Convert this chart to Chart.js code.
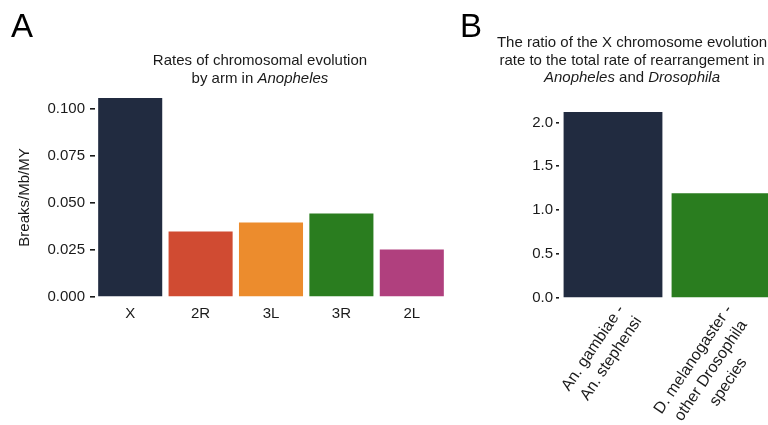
<!DOCTYPE html>
<html>
<head>
<meta charset="utf-8">
<script src="https://cdn.jsdelivr.net/npm/chart.js@4"></script>
<style>
  html, body { margin: 0; padding: 0; background: #fff; overflow: hidden; }
  #wrap { position: relative; width: 768px; height: 425px; overflow: hidden; font-family: "Liberation Sans", Arial, sans-serif; color: #1a1a1a; }
  .box { position: absolute; top: 0; height: 425px; }
  .letter { position: absolute; font-size: 33px; line-height: 33px; color: #000; }
  .title { position: absolute; font-size: 15px; line-height: 17.5px; text-align: center; transform: translateX(-50%); white-space: nowrap; }
</style>
</head>
<body>
<div id="wrap">
  <div class="box" style="left:0;width:460px"><canvas id="chartA"></canvas></div>
  <div class="box" style="left:440px;width:340px"><canvas id="chartB"></canvas></div>
  <div class="letter" style="left:11px;top:9px">A</div>
  <div class="letter" style="left:460px;top:9px">B</div>
  <div class="title" style="left:260px;top:51px">Rates of chromosomal evolution<br>by arm in <i>Anopheles</i></div>
  <div class="title" style="left:632px;top:33px">The ratio of the X chromosome evolution<br>rate to the total rate of rearrangement in<br><i>Anopheles</i> and <i>Drosophila</i></div>
</div>
<script>
// panel A: rates by chromosome arm
const armLabels = ['X', '2R', '3L', '3R', '2L'];
const armRates = [0.1058, 0.0348, 0.0396, 0.0444, 0.0253];
const armColors = ['#212b40', '#d04b32', '#ec8c2d', '#2a7d1f', '#b0407e'];

// panel B: X / total ratio
const pairLabels = [['An. gambiae -', 'An. stephensi'], ['D. melanogaster -', 'other Drosophila', 'species']];
const pairRatios = [2.118, 1.194];
const pairColors = ['#212b40', '#2a7d1f'];

const ink = '#1a1a1a';
const fam = '"Liberation Sans", Arial, sans-serif';
const fnt = { family: fam, size: 15 };

// rotated labels are right aligned by chart.js; pad lines so they look centred
const meas = document.createElement('canvas').getContext('2d');
meas.font = '16px ' + fam;
function centreLines(lines) {
  if (!Array.isArray(lines)) return lines;
  const ws = lines.map(l => meas.measureText(l).width);
  const maxW = Math.max(...ws);
  const sp = meas.measureText(' ').width;
  return lines.map((l, i) => l + ' '.repeat(Math.round((maxW - ws[i]) / 2 / sp)));
}

function baseOpts(top, right, yWidth, xHeight) {
  return {
    responsive: true,
    maintainAspectRatio: false,
    animation: false,
    layout: { padding: { top: top, right: right, left: 0, bottom: 0 } },
    plugins: { legend: { display: false }, tooltip: { enabled: false } },
    scales: {
      x: {
        offset: true,
        grid: { display: false },
        border: { display: false },
        ticks: { color: ink, font: fnt, padding: 0 },
        afterFit: s => { s.height = xHeight; }
      },
      y: {
        min: 0,
        border: { display: false },
        grid: { drawOnChartArea: false, drawTicks: true, color: ink, lineWidth: 1.6 },
        ticks: { color: ink, font: fnt, includeBounds: false },
        afterFit: s => { s.width = yWidth; }
      }
    }
  };
}

const optA = baseOpts(98, 13, 95, 128);
optA.scales.y.max = 0.1058;
optA.scales.y.ticks.stepSize = 0.025;
optA.scales.y.ticks.padding = 5;
optA.scales.y.ticks.callback = v => v.toFixed(3);
optA.scales.y.grid.tickLength = 5;
optA.scales.y.title = { display: true, text: 'Breaks/Mb/MY', color: ink, font: fnt, padding: { top: 16, bottom: 0 } };

new Chart(document.getElementById('chartA'), {
  type: 'bar',
  data: {
    labels: armLabels,
    datasets: [{ data: armRates, backgroundColor: armColors, categoryPercentage: 0.91, barPercentage: 1 }]
  },
  options: optA
});

const optB = baseOpts(112, 5, 119, 127);
optB.scales.y.max = 2.118;
optB.scales.y.ticks.stepSize = 0.5;
optB.scales.y.ticks.padding = 3;
optB.scales.y.ticks.callback = v => v.toFixed(1);
optB.scales.y.grid.tickLength = 3;
optB.scales.x.ticks.minRotation = 56;
optB.scales.x.ticks.maxRotation = 56;
optB.scales.x.ticks.padding = -5;
optB.scales.x.ticks.labelOffset = 8;
optB.scales.x.ticks.font = { family: fam, size: 16, lineHeight: 1.3 };
optB.scales.x.ticks.callback = function (v) { return centreLines(this.getLabelForValue(v)); };

new Chart(document.getElementById('chartB'), {
  type: 'bar',
  data: {
    labels: pairLabels,
    datasets: [{ data: pairRatios, backgroundColor: pairColors, categoryPercentage: 0.915, barPercentage: 1 }]
  },
  options: optB
});
</script>
</body>
</html>
